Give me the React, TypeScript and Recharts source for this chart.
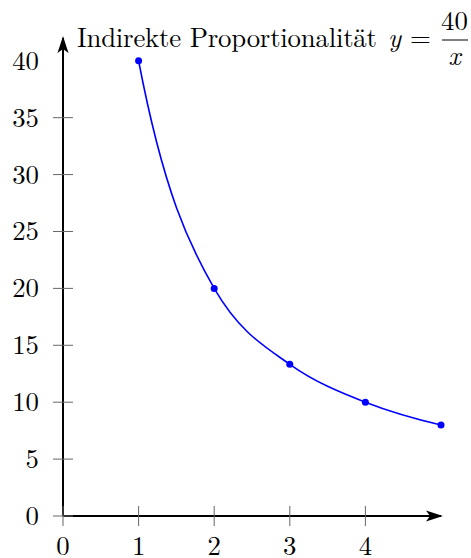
import { LineChart, Line, XAxis, YAxis } from "recharts";

const xValues = [1, 2, 3, 4, 5];
const yValues = [40, 20, 13.33, 10, 8];
const xTicks = [0, 1, 2, 3, 4];
const yTicks = [0, 5, 10, 15, 20, 25, 30, 35, 40];

const data = xValues.map((x, i) => ({ x, y: yValues[i] }));

const FONT = "'Latin Modern Roman', 'Liberation Serif', serif";
const FS = 26.8;
const textStyle = { fontFamily: FONT, fontSize: FS };
const italicStyle = { ...textStyle, fontStyle: "italic" };

// hermite curve, tangents = geometric mean of neighbouring secants (keeps 1/x shapes round)
function curveGeometric(context: any) {
  let xs: number[] = [];
  let ys: number[] = [];
  return {
    areaStart() {},
    areaEnd() {},
    lineStart() {
      xs = [];
      ys = [];
    },
    point(x: number, y: number) {
      xs.push(+x);
      ys.push(+y);
    },
    lineEnd() {
      const n = xs.length;
      if (n === 0) return;
      context.moveTo(xs[0], ys[0]);
      if (n === 1) return;
      if (n === 2) {
        context.lineTo(xs[1], ys[1]);
        return;
      }
      const s: number[] = [];
      for (let i = 0; i < n - 1; i++) s.push((ys[i + 1] - ys[i]) / (xs[i + 1] - xs[i]));
      const m: number[] = new Array(n).fill(0);
      for (let i = 1; i < n - 1; i++) {
        m[i] = s[i - 1] * s[i] > 0 ? Math.sign(s[i]) * Math.sqrt(s[i - 1] * s[i]) : 0;
      }
      m[0] = m[1] !== 0 ? (s[0] * s[0]) / m[1] : s[0];
      m[n - 1] = m[n - 2] !== 0 ? (s[n - 2] * s[n - 2]) / m[n - 2] : s[n - 2];
      for (let i = 0; i < n - 1; i++) {
        const h = (xs[i + 1] - xs[i]) / 3;
        context.bezierCurveTo(
          xs[i] + h,
          ys[i] + m[i] * h,
          xs[i + 1] - h,
          ys[i + 1] - m[i + 1] * h,
          xs[i + 1],
          ys[i + 1]
        );
      }
    },
  };
}

function XTick(props: any) {
  const { x, y, payload } = props;
  return (
    <g>
      <line x1={x} x2={x} y1={y - 10} y2={y + 10} stroke="#666" strokeWidth={1} />
      <text x={x} y={y + 39} textAnchor="middle" style={textStyle} fill="#000">
        {payload.value}
      </text>
    </g>
  );
}

function YTick(props: any) {
  const { x, y, payload } = props;
  return (
    <g>
      {payload.value !== 40 && (
        <line x1={x - 10} x2={x + 10} y1={y} y2={y} stroke="#666" strokeWidth={1} />
      )}
      <text x={x - 24} y={y + 9} textAnchor="end" style={textStyle} fill="#000">
        {payload.value}
      </text>
    </g>
  );
}

export default function App() {
  return (
    <div style={{ position: "relative", width: 471, height: 558 }}>
      <style>{"body{margin:0}"}</style>
      <svg width={0} height={0} style={{ position: "absolute" }}>
        <defs>
          <marker
            id="arrowHead"
            markerUnits="userSpaceOnUse"
            markerWidth={18}
            markerHeight={12}
            viewBox="0 0 18 12"
            refX={15}
            refY={6}
            orient="auto-start-reverse"
          >
            <path d="M0,0.5 L17,6 L0,11.5 L4,6 Z" fill="#000" />
          </marker>
        </defs>
      </svg>
      <LineChart width={471} height={558} data={data} margin={{ top: 38, right: 30, bottom: 12, left: 8 }}>
        <XAxis
          dataKey="x"
          type="number"
          domain={[0, 5]}
          ticks={xTicks}
          height={30}
          tickSize={0}
          tickMargin={0}
          tickLine={false}
          axisLine={{ stroke: "#000", strokeWidth: 2, markerEnd: "url(#arrowHead)" }}
          tick={<XTick />}
          interval={0}
        />
        <YAxis
          dataKey="y"
          type="number"
          domain={[0, 42]}
          ticks={yTicks}
          width={55}
          tickSize={0}
          tickMargin={0}
          tickLine={false}
          axisLine={{ stroke: "#000", strokeWidth: 2, markerStart: "url(#arrowHead)" }}
          tick={<YTick />}
          interval={0}
        />
        <Line
          type={curveGeometric as any}
          dataKey="y"
          stroke="#0000ff"
          strokeWidth={1.6}
          dot={{ r: 3.5, fill: "#0000ff", stroke: "none" }}
          isAnimationActive={false}
        />
      </LineChart>
      <svg
        width={471}
        height={80}
        style={{ position: "absolute", left: 0, top: 0, pointerEvents: "none" }}
      >
        <text x={77} y={47} fill="#000" style={textStyle} textLength={300} lengthAdjust="spacing">
          Indirekte Proportionalität
        </text>
        <text x={388} y={47} fill="#000" style={italicStyle}>y</text>
        <text x={410} y={47} fill="#000" style={textStyle}>=</text>
        <text x={454.5} y={30} fill="#000" textAnchor="middle" style={textStyle}>40</text>
        <line x1={442} x2={468} y1={40} y2={40} stroke="#000" strokeWidth={1} />
        <text x={454.5} y={65} fill="#000" textAnchor="middle" style={italicStyle}>x</text>
      </svg>
    </div>
  );
}
